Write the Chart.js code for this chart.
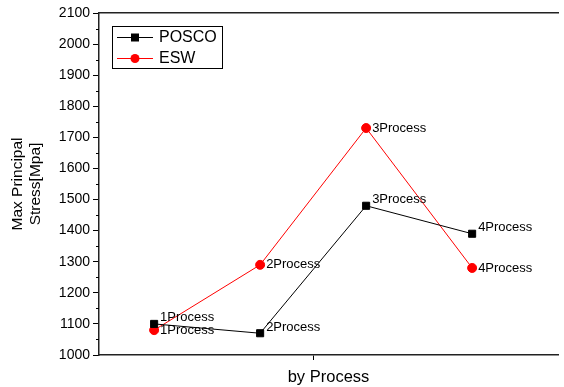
<!DOCTYPE html>
<html>
<head>
<meta charset="utf-8">
<script src="https://cdn.jsdelivr.net/npm/chart.js@4/dist/chart.umd.min.js"></script>
<style>
  html, body { margin: 0; padding: 0; background: #fff; }
  #wrap { width: 564px; height: 387px; }
</style>
</head>
<body>
<div id="wrap"><canvas id="chart" width="564" height="387"></canvas></div>
<script>
// data
const categories = ['1Process', '2Process', '3Process', '4Process'];
const poscoValues = [1100, 1070, 1480, 1390];
const eswValues = [1080, 1290, 1730, 1280];
const yTicks = [1000, 1100, 1200, 1300, 1400, 1500, 1600, 1700, 1800, 1900, 2000, 2100];

const FONT = "'Liberation Sans', Arial, sans-serif";

function toPoints(values) {
    return values.map((v, i) => ({ x: i + 1, y: v }));
}

// text next to each point
const pointLabels = {
    id: 'pointLabels',
    afterDatasetsDraw(chart) {
        const ctx = chart.ctx;
        const dy = [-6, 0];
        ctx.save();
        ctx.font = '13px ' + FONT;
        ctx.fillStyle = '#000';
        ctx.textBaseline = 'middle';
        chart.data.datasets.forEach((ds, i) => {
            chart.getDatasetMeta(i).data.forEach((pt, j) => {
                ctx.fillText(categories[j], pt.x + 6, pt.y + dy[i]);
            });
        });
        ctx.restore();
    }
};

// minor ticks on the left axis + framed legend
const extras = {
    id: 'extras',
    afterDraw(chart) {
        const ctx = chart.ctx;
        const y = chart.scales.y;
        const area = chart.chartArea;
        ctx.save();
        ctx.strokeStyle = '#000';
        ctx.lineWidth = 1;
        for (let i = 0; i < yTicks.length - 1; i++) {
            const py = Math.round(y.getPixelForValue((yTicks[i] + yTicks[i + 1]) / 2)) + 0.5;
            ctx.beginPath();
            ctx.moveTo(area.left - 3, py);
            ctx.lineTo(area.left, py);
            ctx.stroke();
        }

        // legend
        const lx = area.left + 13, ly = area.top + 13;
        ctx.strokeRect(lx + 0.5, ly + 0.5, 110, 42);
        ctx.font = '16px ' + FONT;
        ctx.textBaseline = 'middle';
        chart.data.datasets.forEach((ds, i) => {
            const rowY = ly + 11 + i * 21;
            ctx.strokeStyle = ds.borderColor;
            ctx.beginPath();
            ctx.moveTo(lx + 5, rowY + 0.5);
            ctx.lineTo(lx + 41, rowY + 0.5);
            ctx.stroke();
            ctx.fillStyle = ds.pointBackgroundColor;
            if (ds.pointStyle === 'rect') {
                ctx.fillRect(lx + 19, rowY - 3.5, 8, 8);
            } else {
                ctx.beginPath();
                ctx.arc(lx + 23, rowY + 0.5, 4.5, 0, Math.PI * 2);
                ctx.fill();
            }
            ctx.fillStyle = '#000';
            ctx.fillText(ds.label, lx + 47, rowY + 1);
        });
        ctx.restore();
    }
};

new Chart(document.getElementById('chart'), {
    type: 'line',
    data: {
        datasets: [{
            label: 'POSCO',
            data: toPoints(poscoValues),
            borderColor: '#000',
            backgroundColor: '#000',
            pointBackgroundColor: '#000',
            pointBorderColor: '#000',
            pointStyle: 'rect',
            pointRadius: 5,
            borderWidth: 1,
            tension: 0
        }, {
            label: 'ESW',
            data: toPoints(eswValues),
            borderColor: '#ff0000',
            backgroundColor: '#ff0000',
            pointBackgroundColor: '#ff0000',
            pointBorderColor: '#ff0000',
            pointStyle: 'circle',
            pointRadius: 4.5,
            borderWidth: 1,
            tension: 0
        }]
    },
    options: {
        responsive: false,
        animation: false,
        layout: { padding: 0 },
        plugins: {
            legend: { display: false },
            tooltip: { enabled: false }
        },
        scales: {
            x: {
                type: 'linear',
                position: 'bottom',
                min: 0.48,
                max: 4.81,
                afterBuildTicks: s => { s.ticks = [{ value: 2.5 }]; },
                afterFit: s => { s.height = 32; },
                ticks: { display: false },
                grid: { drawOnChartArea: false, tickLength: 5, tickColor: '#000' },
                border: { color: '#222', width: 1.5 },
                title: {
                    display: true,
                    text: 'by Process',
                    color: '#000',
                    font: { family: FONT, size: 16.5 },
                    padding: { top: 0, bottom: 0 }
                }
            },
            x2: {
                type: 'linear',
                position: 'top',
                min: 0.48,
                max: 4.81,
                afterFit: s => { s.height = 13; },
                ticks: { display: false },
                grid: { drawOnChartArea: false, drawTicks: false },
                border: { color: '#222', width: 1.5 }
            },
            y: {
                min: 1000,
                max: 2100,
                afterBuildTicks: s => { s.ticks = yTicks.map(v => ({ value: v })); },
                afterFit: s => { s.width = 99; },
                ticks: {
                    color: '#000',
                    padding: 3,
                    font: { family: FONT, size: 14 },
                    callback: v => String(v)
                },
                grid: { drawOnChartArea: false, tickLength: 6, tickColor: '#000' },
                border: { color: '#222', width: 1.5 },
                title: {
                    display: true,
                    text: ['Max Principal', 'Stress[Mpa]'],
                    color: '#000',
                    font: { family: FONT, size: 15.5 },
                    padding: { top: 8, bottom: 0 }
                }
            }
        }
    },
    plugins: [pointLabels, extras]
});
</script>
</body>
</html>
